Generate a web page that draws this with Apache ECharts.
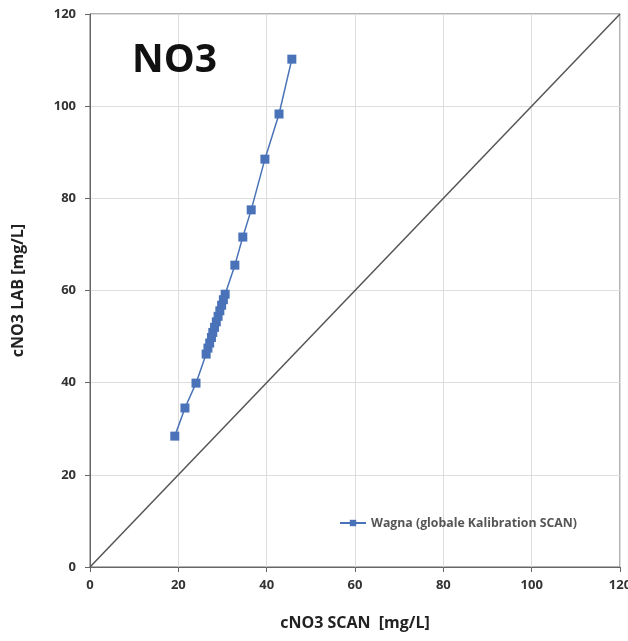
<!DOCTYPE html>
<html>
<head>
<meta charset="utf-8">
<script src="https://cdn.jsdelivr.net/npm/echarts@6/dist/echarts.min.js"></script>
<style>
  html, body { margin: 0; padding: 0; background: #fff; }
  #chart { width: 628px; height: 641px; }
</style>
</head>
<body>
<div id="chart"></div>
<script>
// cNO3 SCAN (x) gegen cNO3 LAB (y)
var scanValues = [19.2, 21.5, 24.0, 26.3, 26.7, 27.1, 27.5, 27.8, 28.2, 28.6, 29.0, 29.4, 29.8, 30.2, 30.6, 32.8, 34.6, 36.5, 39.6, 42.8, 45.7]
var labValues = [28.4, 34.5, 39.9, 46.2, 47.5, 48.6, 49.8, 50.9, 52.0, 53.2, 54.4, 55.6, 56.8, 58.0, 59.2, 65.5, 71.6, 77.5, 88.5, 98.3, 110.2]
var seriesName = 'Wagna (globale Kalibration SCAN)'
// 1:1 Linie
var diagonal = [[0, 0], [120, 120]]

var points = scanValues.map(function (x, i) { return [x, labValues[i]] })

var myChart = echarts.init(document.getElementById('chart'))
var axisFont = { color: '#333', fontSize: 13, fontWeight: 'bold', fontFamily: 'Open Sans' }
var option = {
  animation: false,
  backgroundColor: '#fff',
  title: {
    text: 'NO3',
    left: 127,
    top: 36,
    textStyle: { fontSize: 39, fontWeight: 'bold', color: '#111', fontFamily: 'Open Sans' }
  },
  legend: {
    data: [seriesName],
    left: 334,
    top: 512,
    itemWidth: 26,
    itemHeight: 8,
    itemGap: 4,
    textStyle: { fontSize: 12.3, fontWeight: 'bold', color: '#555', fontFamily: 'Open Sans' }
  },
  grid: {
    left: 90,
    right: 8,
    top: 14,
    bottom: 74,
    outerBoundsMode: 'none',
    show: true,
    borderColor: '#666',
    borderWidth: 1
  },
  xAxis: {
    type: 'value',
    min: 0,
    max: 120,
    interval: 20,
    name: 'cNO3 SCAN  [mg/L]',
    nameLocation: 'middle',
    nameGap: 48,
    nameTextStyle: { fontSize: 16, fontWeight: 'bold', color: '#222', fontFamily: 'Open Sans' },
    axisLine: { lineStyle: { color: '#666' } },
    axisTick: { length: 5, lineStyle: { color: '#666' } },
    axisLabel: Object.assign({ margin: 12 }, axisFont),
    splitLine: { lineStyle: { color: '#ddd' } }
  },
  yAxis: {
    type: 'value',
    min: 0,
    max: 120,
    interval: 20,
    name: 'cNO3 LAB [mg/L]',
    nameLocation: 'middle',
    nameGap: 64,
    nameTextStyle: { fontSize: 16, fontWeight: 'bold', color: '#222', fontFamily: 'Open Sans' },
    axisLine: { lineStyle: { color: '#666' } },
    axisTick: { length: 5, lineStyle: { color: '#666' } },
    axisLabel: Object.assign({ margin: 14 }, axisFont),
    splitLine: { lineStyle: { color: '#ddd' } }
  },
  series: [
    {
      name: '1:1',
      type: 'line',
      data: diagonal,
      symbol: 'none',
      lineStyle: { color: '#555', width: 1.5 },
      silent: true
    },
    {
      name: seriesName,
      type: 'line',
      data: points,
      symbol: 'rect',
      symbolSize: 9,
      itemStyle: { color: '#4a72b8' },
      lineStyle: { color: '#4a72b8', width: 1.5 }
    }
  ]
}
myChart.setOption(option)
</script>
</body>
</html>
